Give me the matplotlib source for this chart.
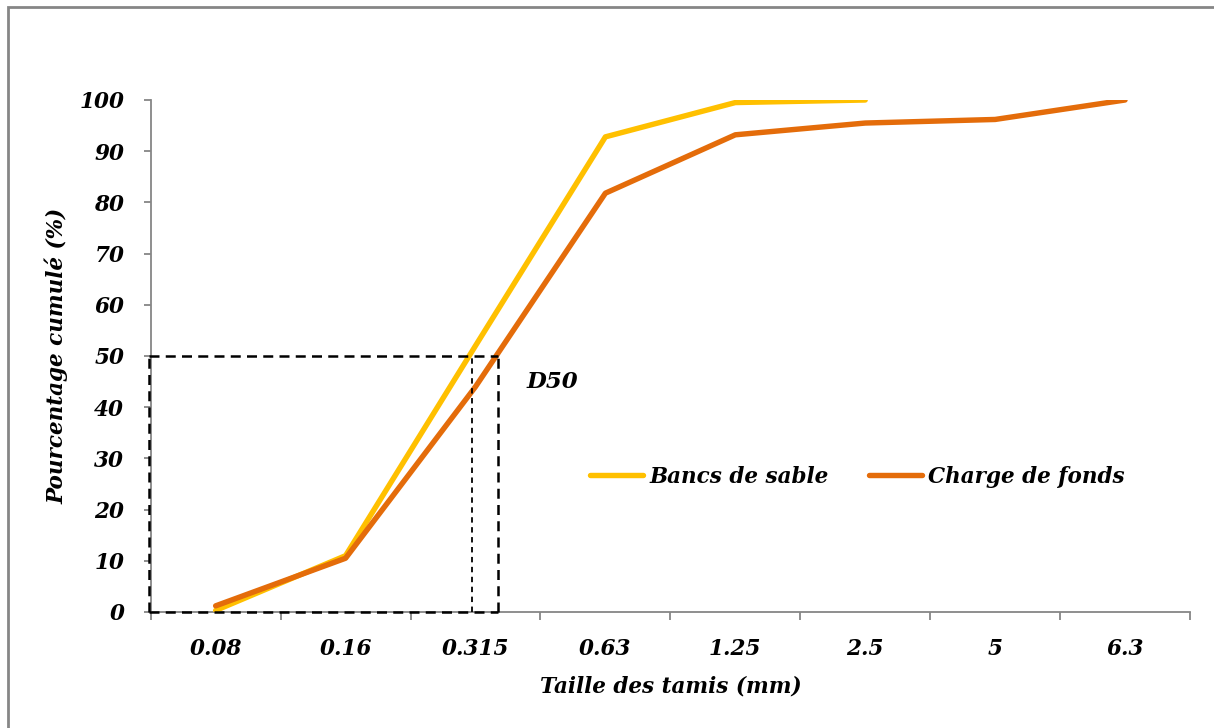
import matplotlib
matplotlib.use("Agg")
import matplotlib.pyplot as plt
from matplotlib.patches import Rectangle
from matplotlib.ticker import FixedLocator, NullFormatter, FixedFormatter

# ---- data ----
sieve_sizes = ["0.08", "0.16", "0.315", "0.63", "1.25", "2.5", "5", "6.3"]
bancs_de_sable = [0.3, 11.0, 52.0, 92.8, 99.5, 100.0]
charge_de_fonds = [1.2, 10.5, 44.0, 81.8, 93.2, 95.5, 96.2, 100.0]
y_ticks = [0, 10, 20, 30, 40, 50, 60, 70, 80, 90, 100]
d50_level = 50
d50_bancs = 1.97
d50_charge = 2.17

FONT = "DejaVu Serif"
fs = 15.5
col_yellow = "#FFC000"
col_orange = "#E46C0A"
col_axis = "#868686"

fig = plt.figure(figsize=(12.14, 7.28), dpi=100)
ax = fig.add_axes([150.7 / 1214, 1 - 612 / 728, (1190 - 150.7) / 1214, (612 - 100) / 728])

# frame around the chart
fig.patches.append(Rectangle((8 / 1214, -0.05), 1.2, 1 - 7 / 728 + 0.05, transform=fig.transFigure,
                             fill=False, edgecolor=col_axis, linewidth=2.0, zorder=0))

xb = list(range(len(bancs_de_sable)))
xc = list(range(len(charge_de_fonds)))
ax.plot(xb, bancs_de_sable, color=col_yellow, lw=3.9, solid_capstyle="round",
        solid_joinstyle="round", label="Bancs de sable", zorder=3)
ax.plot(xc, charge_de_fonds, color=col_orange, lw=3.9, solid_capstyle="round",
        solid_joinstyle="round", label="Charge de fonds", zorder=4)

ax.set_xlim(-0.5, len(sieve_sizes) - 0.5)
ax.set_ylim(0, 100)

# D50 construction lines
dash_kw = dict(color="black", lw=1.8, dashes=(4, 2.5), clip_on=False, zorder=5)
left_x = -0.51
ax.plot([left_x, d50_charge], [d50_level, d50_level], **dash_kw)
ax.plot([left_x, d50_charge], [0, 0], **dash_kw)
ax.plot([left_x, left_x], [0, d50_level], **dash_kw)
ax.plot([d50_charge, d50_charge], [0, d50_level], **dash_kw)
ax.plot([d50_bancs, d50_bancs], [0, d50_level], color="black", lw=1.3, dashes=(3, 2.5),
        clip_on=False, zorder=5)
ax.text(2.39, 45, "D50", fontsize=fs + 1, fontweight="bold", fontstyle="italic",
        family=FONT, va="center", ha="left")

# axes styling
for s in ["top", "right"]:
    ax.spines[s].set_visible(False)
for s in ["left", "bottom"]:
    ax.spines[s].set_color(col_axis)
    ax.spines[s].set_linewidth(1.3)

ax.set_yticks(y_ticks)
ax.set_yticklabels([str(v) for v in y_ticks])
ax.tick_params(axis="y", direction="out", length=5, width=1.3, color=col_axis, pad=14)

n = len(sieve_sizes)
ax.xaxis.set_major_locator(FixedLocator([i - 0.5 for i in range(n + 1)]))
ax.xaxis.set_major_formatter(NullFormatter())
ax.xaxis.set_minor_locator(FixedLocator(list(range(n))))
ax.xaxis.set_minor_formatter(FixedFormatter(sieve_sizes))
ax.tick_params(axis="x", which="major", direction="out", length=6, width=1.3, color=col_axis)
ax.tick_params(axis="x", which="minor", length=0, pad=19)

for lab in ax.get_xticklabels(minor=True) + ax.get_yticklabels():
    lab.set_family(FONT)
    lab.set_fontweight("bold")
    lab.set_fontstyle("italic")
    lab.set_fontsize(fs)

ax.set_xlabel("Taille des tamis (mm)", family=FONT, fontweight="bold", fontstyle="italic",
              fontsize=fs, labelpad=11)
ax.set_ylabel("Pourcentage cumulé (%)", family=FONT, fontweight="bold", fontstyle="italic",
              fontsize=fs, labelpad=8)

leg = ax.legend(loc="center", bbox_to_anchor=(0.68, 0.264), ncol=2, frameon=False,
                handlelength=2.45, handletextpad=0.3, columnspacing=1.9,
                prop=dict(family=FONT, weight="bold", style="italic", size=fs))

fig.savefig("out.png", dpi=100, facecolor="white")
